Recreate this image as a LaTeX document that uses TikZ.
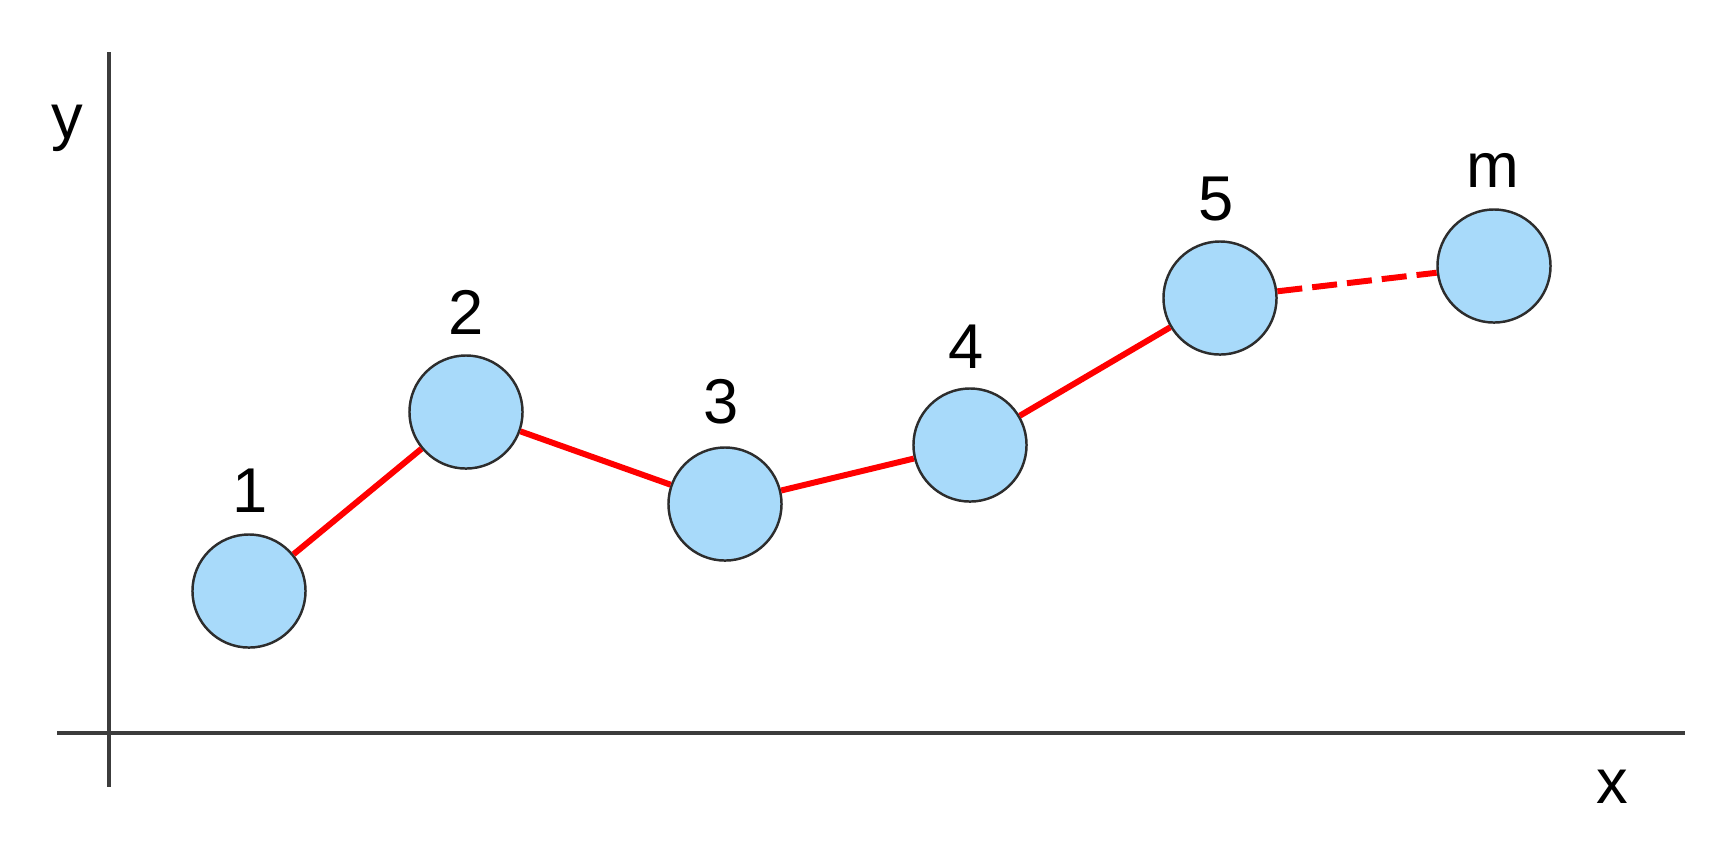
\documentclass[tikz,border=0pt]{standalone}
\usepackage{fontspec}
\setmainfont{Liberation Sans}
\definecolor{nodefill}{RGB}{168,218,250}
\definecolor{nodeline}{RGB}{45,45,45}
\definecolor{axisgray}{RGB}{60,60,60}
\definecolor{linkred}{RGB}{255,0,0}
\begin{document}
\begin{tikzpicture}[x=0.01cm,y=-0.01cm,
  pt/.style={circle,draw=nodeline,line width=0.7pt,fill=nodefill,minimum size=1.13cm,inner sep=0pt},
  lbl/.style={anchor=base,font=\fontsize{18}{20}\selectfont,inner sep=0pt},
  axis/.style={draw=axisgray,line width=0.9pt},
  link/.style={draw=linkred,line width=1.7pt},
  dlink/.style={draw=linkred,line width=1.7pt,dash pattern=on 0.25cm off 0.1cm}]
\useasboundingbox (0,0) rectangle (1709,847);
% axes
\coordinate (ytop) at (109,52);
\coordinate (ybot) at (109,787);
\coordinate (xl) at (57,733);
\coordinate (xr) at (1685,733);
\draw[axis] (ytop) -- (ybot);
\draw[axis] (xl) -- (xr);
\node[lbl] (ylab) at (67,138) {y};
\node[lbl] (xlab) at (1612,803) {x};
% points
\node[pt] (p1) at (249,591) {};
\node[pt] (p2) at (466,412) {};
\node[pt] (p3) at (725,504) {};
\node[pt] (p4) at (970,445) {};
\node[pt] (p5) at (1220,298) {};
\node[pt] (pm) at (1494,266) {};
% labels
\node[lbl] (l1) at (250,512) {1};
\node[lbl] (l2) at (466,334) {2};
\node[lbl] (l3) at (721,423) {3};
\node[lbl] (l4) at (966,368) {4};
\node[lbl] (l5) at (1216,220) {5};
\node[lbl] (lm) at (1493,187) {m};
% links
\draw[link] (p1) -- (p2);
\draw[link] (p2) -- (p3);
\draw[link] (p3) -- (p4);
\draw[link] (p4) -- (p5);
\draw[dlink] (p5) -- (pm);
\end{tikzpicture}
\end{document}
